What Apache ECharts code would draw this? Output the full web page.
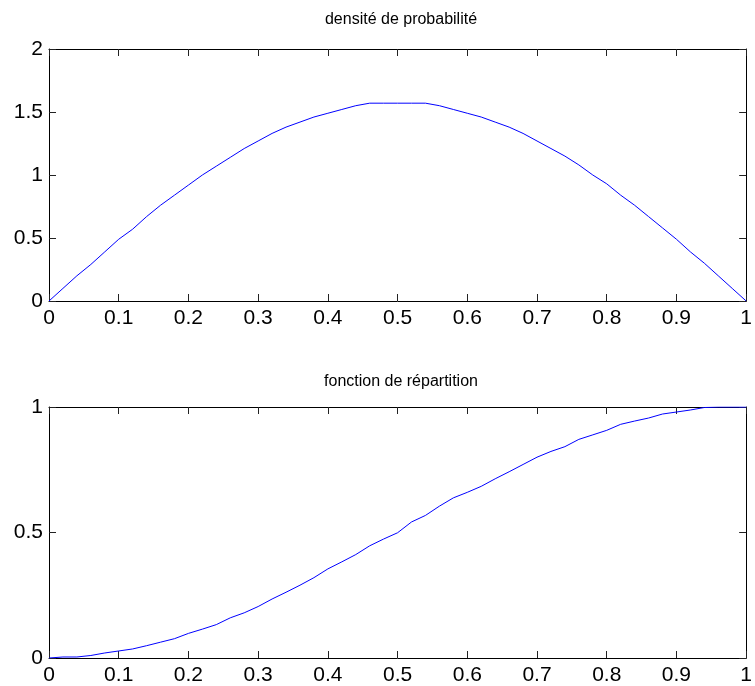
<!DOCTYPE html>
<html>
<head>
<meta charset="utf-8">
<script src="https://cdn.jsdelivr.net/npm/echarts@6/dist/echarts.min.js"></script>
<style>html,body{margin:0;padding:0;background:#fff;}#c{width:755px;height:686px;}</style>
</head>
<body>
<div id="c"></div>
<script>
const titleTop = "densité de probabilité";
const titleBottom = "fonction de répartition";
const xs = [0,0.02,0.04,0.06,0.08,0.10,0.12,0.14,0.16,0.18,0.20,0.22,0.24,0.26,0.28,0.30,0.32,0.34,0.36,0.38,0.40,0.42,0.44,0.46,0.48,0.50,0.52,0.54,0.56,0.58,0.60,0.62,0.64,0.66,0.68,0.70,0.72,0.74,0.76,0.78,0.80,0.82,0.84,0.86,0.88,0.90,0.92,0.94,0.96,0.98,1.00];
const density = [0,0.10,0.20,0.29,0.39,0.49,0.57,0.67,0.76,0.84,0.92,1.00,1.07,1.14,1.21,1.27,1.33,1.38,1.42,1.46,1.49,1.52,1.55,1.57,1.57,1.57,1.57,1.57,1.55,1.52,1.49,1.46,1.42,1.38,1.33,1.27,1.21,1.15,1.08,1.00,0.93,0.84,0.76,0.67,0.58,0.49,0.39,0.30,0.20,0.10,0];
const cdf = [0,0.004,0.004,0.010,0.020,0.028,0.036,0.049,0.063,0.077,0.098,0.115,0.133,0.160,0.180,0.205,0.235,0.262,0.290,0.320,0.355,0.383,0.412,0.447,0.474,0.499,0.542,0.568,0.605,0.638,0.660,0.684,0.714,0.742,0.771,0.800,0.823,0.842,0.871,0.889,0.907,0.931,0.944,0.956,0.972,0.980,0.988,0.998,1,1,1];
const xTicks = {min:0, max:1, interval:0.1};
const yTopTicks = {min:0, max:2, interval:0.5};
const yBotTicks = {min:0, max:1, interval:0.5};

const font = "'Liberation Sans', Arial, sans-serif";
const fmt = v => String(+(+v).toFixed(2));
function xAx(gi, pos, showLabel){
  return {type:'value', gridIndex:gi, position:pos, min:xTicks.min, max:xTicks.max, interval:xTicks.interval,
    axisLine:{show:true, onZero:false, lineStyle:{color:'#000', width:1}},
    axisTick:{show:true, inside:true, length:7, lineStyle:{color:'#222'}},
    splitLine:{show:false},
    axisLabel:{show:showLabel, color:'#000', fontSize:21, fontFamily:font, margin:7, formatter:fmt, showMinLabel:true, showMaxLabel:true}};
}
function yAx(gi, pos, t, showLabel){
  return {type:'value', gridIndex:gi, position:pos, min:t.min, max:t.max, interval:t.interval,
    axisLine:{show:true, onZero:false, lineStyle:{color:'#000', width:1}},
    axisTick:{show:true, inside:true, length:7, lineStyle:{color:'#222'}},
    splitLine:{show:false},
    axisLabel:{show:showLabel, color:'#000', fontSize:21, fontFamily:font, margin:6, formatter:fmt, showMinLabel:true, showMaxLabel:true}};
}
const chart = echarts.init(document.getElementById('c'), null, {renderer:'canvas'});
chart.setOption({
  animation:false,
  backgroundColor:'#fff',
  graphic:[
    {type:'text', x:401, y:12, style:{text:titleTop, fill:'#000', font:"16px 'Liberation Sans', Arial, sans-serif", textAlign:'center', textVerticalAlign:'top'}},
    {type:'text', x:401, y:374, style:{text:titleBottom, fill:'#000', font:"16px 'Liberation Sans', Arial, sans-serif", textAlign:'center', textVerticalAlign:'top'}}
  ],
  grid:[
    {left:49, right:2, top:49, height:252, containLabel:false},
    {left:49, right:2, top:407, height:252, containLabel:false}
  ],
  xAxis:[xAx(0,'bottom',true), xAx(0,'top',false), xAx(1,'bottom',true), xAx(1,'top',false)],
  yAxis:[yAx(0,'left',yTopTicks,true), yAx(0,'right',yTopTicks,false), yAx(1,'left',yBotTicks,true), yAx(1,'right',yBotTicks,false)],
  series:[
    {type:'line', xAxisIndex:0, yAxisIndex:0, data:xs.map((x,i)=>[x,density[i]]), showSymbol:false, lineStyle:{color:'#0000ff', width:1}},
    {type:'line', xAxisIndex:2, yAxisIndex:2, data:xs.map((x,i)=>[x,cdf[i]]), showSymbol:false, lineStyle:{color:'#0000ff', width:1}}
  ]
});
</script>
</body>
</html>
